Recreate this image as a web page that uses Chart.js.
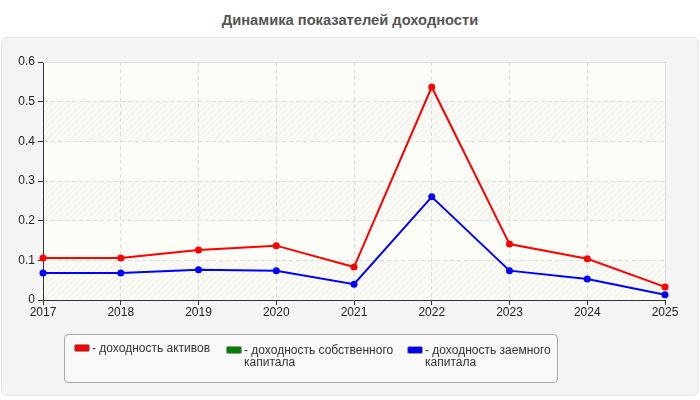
<!DOCTYPE html>
<html>
<head>
<meta charset="utf-8">
<script src="https://cdn.jsdelivr.net/npm/chart.js@4"></script>
<style>
  html, body { margin:0; padding:0; background:#ffffff; }
  #wrap { position:relative; width:700px; height:400px; font-family:"Liberation Sans", Arial, sans-serif; }
  #panel { position:absolute; left:1px; top:37px; width:696px; height:357px; background:#f4f4f4; border:1px solid #e4e4e4; border-radius:6px; }
  #title { position:absolute; left:0; top:12px; width:700px; text-align:center; font-weight:bold; font-size:14.7px; color:#555; }
  #chartbox { position:absolute; left:0; top:0; width:700px; height:400px; }
  #legend { position:absolute; left:64px; top:334px; width:492px; height:47px; background:#f9f9f9; border:1px solid #aaa; border-radius:4px; }
  .li { position:absolute; top:7px; font-size:12px; color:#333; line-height:12px; }
  .sw { position:absolute; left:0; top:2px; width:14px; height:6px; border:1px solid #999; border-radius:2px; }
  .tx { position:absolute; left:18px; top:0; white-space:normal; }
</style>
</head>
<body>
<div id="wrap">
  <div id="title">Динамика показателей доходности</div>
  <div id="panel"></div>
  <div id="chartbox"><canvas id="c" width="700" height="400"></canvas></div>
  <div id="legend"></div>
</div>
<script>
const years = ["2017","2018","2019","2020","2021","2022","2023","2024","2025"];
const assetsReturn = [0.106, 0.106, 0.126, 0.137, 0.083, 0.537, 0.141, 0.104, 0.033];
const equityReturn = [null, null, null, null, null, null, null, null, null];
const debtReturn = [0.068, 0.068, 0.076, 0.074, 0.040, 0.260, 0.074, 0.053, 0.013];
const seriesNames = ["доходность активов", "доходность собственного капитала", "доходность заемного капитала"];
const seriesColors = ["#ff0000", "#008000", "#0000ff"];
const yTicks = [0, 0.1, 0.2, 0.3, 0.4, 0.5, 0.6];

// hatch pattern
function makePattern(ctx){
  const p = document.createElement('canvas');
  p.width = 6; p.height = 6;
  const g = p.getContext('2d');
  g.fillStyle = '#fbfbf5';
  g.fillRect(0,0,6,6);
  g.strokeStyle = '#eeeeea';
  g.lineWidth = 1;
  g.beginPath();
  g.moveTo(0,6); g.lineTo(6,0);
  g.moveTo(-1,1); g.lineTo(1,-1);
  g.moveTo(5,7); g.lineTo(7,5);
  g.stroke();
  return ctx.createPattern(p, 'repeat');
}

const bgPlugin = {
  id: 'bgPlugin',
  beforeDraw(chart){
    const {ctx, chartArea:a, scales:{y}} = chart;
    ctx.save();
    ctx.fillStyle = '#fdfdf7';
    ctx.fillRect(a.left, a.top, a.right-a.left, a.bottom-a.top);
    const pat = makePattern(ctx);
    for (let i = 0; i < yTicks.length-1; i++){
      if (i % 2 === 0){
        const yb = y.getPixelForValue(yTicks[i]);
        const yt = y.getPixelForValue(yTicks[i+1]);
        ctx.fillStyle = pat;
        ctx.fillRect(a.left, yt, a.right-a.left, yb-yt);
      }
    }
    ctx.restore();
  },
  beforeDatasetsDraw(chart){
    const {ctx, chartArea:a} = chart;
    ctx.save();
    ctx.strokeStyle = '#dddddd';
    ctx.lineWidth = 1;
    ctx.setLineDash([]);
    ctx.beginPath();
    ctx.moveTo(a.left, a.top+0.5); ctx.lineTo(a.right+0.5, a.top+0.5); ctx.lineTo(a.right+0.5, a.bottom);
    ctx.stroke();
    ctx.restore();
  }
};

const axisFont = { family: '"Liberation Sans", Arial, sans-serif', size: 12 };
const ctx = document.getElementById('c').getContext('2d');
new Chart(ctx, {
  type: 'line',
  data: {
    labels: years,
    datasets: [
      { label: seriesNames[0], data: assetsReturn, borderColor: seriesColors[0], backgroundColor: seriesColors[0], borderWidth: 2, pointRadius: 3.5, pointBackgroundColor: seriesColors[0], pointBorderWidth: 0, tension: 0, fill:false },
      { label: seriesNames[1], data: equityReturn, borderColor: seriesColors[1], backgroundColor: seriesColors[1], borderWidth: 2, pointRadius: 3.5, pointBorderWidth: 0, tension: 0, fill:false },
      { label: seriesNames[2], data: debtReturn, borderColor: seriesColors[2], backgroundColor: seriesColors[2], borderWidth: 2, pointRadius: 3.5, pointBackgroundColor: seriesColors[2], pointBorderWidth: 0, tension: 0, fill:false }
    ]
  },
  options: {
    responsive: false,
    animation: false,
    devicePixelRatio: 1,
    layout: { padding: { top: 62, right: 35, left: 0, bottom: 0 } },
    plugins: { legend: { display: false }, title: { display: false }, tooltip: { enabled: false } },
    scales: {
      x: {
        type: 'category',
        offset: false,
        afterFit(s){ s.height = 100; },
        grid: { color: '#dcdcdc', tickColor: '#333', tickLength: 5, drawTicks: true, tickBorderDash: [] },
        border: { color: '#333', width: 1, dash: [4,3] },
        ticks: { color: '#222', font: axisFont, padding: 0, maxRotation: 0, autoSkip: false }
      },
      y: {
        min: 0, max: 0.6,
        afterFit(s){ s.width = 43; },
        afterBuildTicks(s){ s.ticks = yTicks.map(v => ({ value: v })); },
        grid: { color: '#dcdcdc', tickColor: '#333', tickLength: 5, drawTicks: true, tickBorderDash: [] },
        border: { color: '#333', width: 1, dash: [4,3] },
        ticks: { color: '#222', font: axisFont, padding: 3, callback: v => String(Math.round(v*10)/10) }
      }
    }
  },
  plugins: [bgPlugin]
});

// HTML legend
const legend = document.getElementById('legend');
const lx = [9, 161, 342];
const lw = [140, 172, 150];
seriesNames.forEach((n, i) => {
  const d = document.createElement('div');
  d.className = 'li';
  d.style.left = lx[i] + 'px';
  d.style.width = lw[i] + 'px';
  d.style.top = (i === 0 ? 7 : 9) + 'px';
  d.innerHTML = '<span class="sw" style="background:' + seriesColors[i] + '"></span><span class="tx">- ' + n + '</span>';
  legend.appendChild(d);
});
</script>
</body>
</html>
